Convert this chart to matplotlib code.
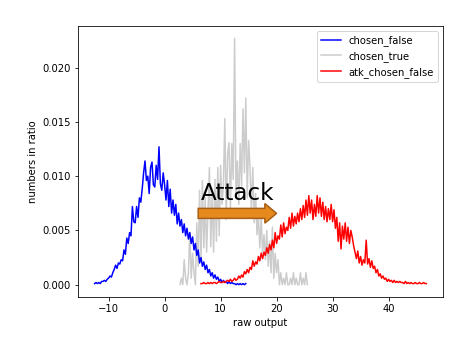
import numpy as np
import matplotlib
matplotlib.use("Agg")
import matplotlib.pyplot as plt

# bin grid (start, step) for each series; values are ratios in units of 1e-4
step = 0.25
chosen_false_start = -12.5
chosen_false_e4 = [
    1, 2, 1, 2, 1, 3, 3, 4, 3, 5, 6, 8, 7, 11, 14, 18, 15, 20, 19, 23,
    22, 32, 28, 43, 38, 48, 45, 72, 58, 57, 72, 62, 80, 76, 88, 103, 114, 96, 100, 84,
    108, 113, 92, 90, 110, 97, 127, 93, 87, 103,
    92, 78, 96, 72, 88, 66, 78, 64, 74, 56, 66, 54, 60, 48, 56, 45, 52, 42, 48, 38,
    44, 32, 38, 27, 32, 20, 25, 17, 21, 14, 18, 11, 14, 8, 11, 6, 9, 5, 7, 3,
    5, 2, 4, 2, 3, 1, 3, 1, 2, 1, 1, 0, 1, 0, 1, 0, 1, 0, 1,
]

chosen_true_start = 2.75
chosen_true_e4 = [
    0, 6, 0, 23, 6, 0, 11, 48, 6, 29, 11, 0, 57, 17, 87, 23, 96, 34, 80, 30,
    68, 108, 35, 86, 30, 97, 40, 108, 45, 110, 74, 91, 153, 60, 120, 131, 70, 130, 97, 227,
    80, 114, 74, 130, 91, 162, 103, 172, 80, 133, 108, 68, 108, 57, 84, 46, 63, 34, 63, 29,
    46, 23, 50, 17, 40, 11, 53, 6, 29, 11, 23, 0, 11, 0, 6, 0, 11, 0, 0, 6,
    0, 11, 0, 6, 0, 0, 11, 0, 6, 0, 11, 0,
]

atk_chosen_false_start = 6.5
atk_chosen_false_e4 = [
    1, 1, 2, 1, 1, 2, 1, 2, 1, 2, 2, 1, 2, 3, 2, 2, 3, 2, 3, 4,
    3, 5, 3, 4, 6, 4, 5, 8, 6, 9, 7, 12, 10, 14, 11, 16, 14, 22, 17, 21,
    19, 26, 22, 29, 24, 30, 27, 34, 29, 37, 32, 41, 34, 48, 38, 45, 42, 55, 44, 57,
    47, 53, 50, 62, 52, 66, 54, 63, 56, 66, 58, 70, 60, 73, 62, 78, 64, 82, 66, 78,
    60, 74, 63, 82, 66, 80, 63, 76, 60, 72, 58, 70, 60, 74, 58, 69, 52, 62, 40, 57,
    33, 54, 42, 57, 40, 53, 38, 50, 44, 36, 30, 24, 31, 20, 26, 18, 23, 20, 41, 19,
    24, 16, 22, 15, 17, 11, 14, 8, 10, 6, 8, 5, 6, 3, 5, 3, 4, 2, 4, 2,
    3, 2, 3, 2, 2, 1, 3, 1, 2, 1, 2, 1, 1, 2, 1, 1, 2, 1, 1, 2,
    1, 1,
]

series = [
    ("chosen_false", chosen_false_start, chosen_false_e4, "blue", 2),
    ("chosen_true", chosen_true_start, chosen_true_e4, "#cccccc", 1),
    ("atk_chosen_false", atk_chosen_false_start, atk_chosen_false_e4, "red", 2),
]

W, H, DPI = 462, 342, 72
fig = plt.figure(figsize=(W / DPI, H / DPI), dpi=DPI)
ax = fig.add_axes([78 / W, 1 - 297 / H, (443 - 78) / W, (297 - 26) / H])

for name, start, vals, color, z in series:
    v = np.array(vals) * 1e-4
    x = start + step * np.arange(len(v))
    ax.plot(x, v, color=color, lw=1.5, label=name, zorder=z)

ax.arrow(6.0, 0.00657, 11.9, 0, width=0.00092, head_width=0.0018,
         head_length=2.1, length_includes_head=False,
         fc="#e68a1e", ec="#a65f14", lw=1.5, zorder=3)
ax.text(6.5, 0.0078, "Attack", fontsize=23, va="baseline", ha="left", zorder=4)

ax.set_xlabel("raw output")
ax.set_ylabel("numbers in ratio")
ax.legend(loc="upper right")

fig.savefig("out.png", dpi=DPI)
